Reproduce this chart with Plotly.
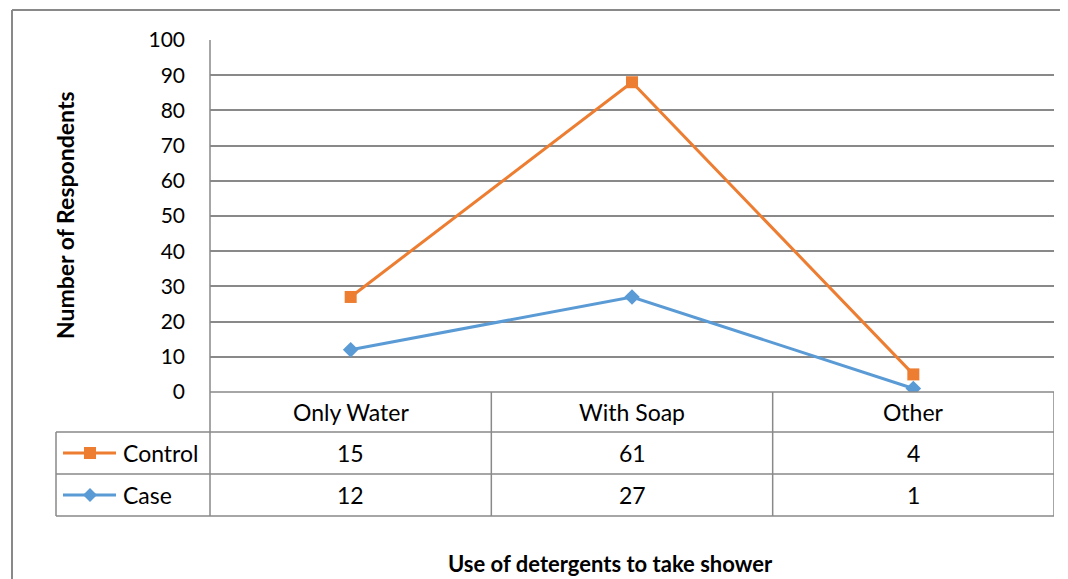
import plotly.graph_objects as go

# Data
categories = ['Only Water', 'With Soap', 'Other']
case_vals = [12, 27, 1]
control_vals = [15, 61, 4]
y_ticks = list(range(0, 101, 10))

ORANGE = '#ED7D31'
BLUE = '#5B9BD5'
GRID = '#898989'
FONT = 'Lato, Calibri, Carlito, sans-serif'

# page body has an 8px margin, so work in screenshot pixels and shift
OFF = 8
W, H = 1068 - OFF, 579 - OFF
PLOT_L, PLOT_R, PLOT_T, PLOT_B = 210, 1054, 40, 392
L, T = PLOT_L - OFF, PLOT_T - OFF
R = W - (PLOT_R - OFF)
B = H - (PLOT_B - OFF)
pw, ph = PLOT_R - PLOT_L, PLOT_B - PLOT_T


def px(x):
    return (x - PLOT_L) / pw


def py(y):
    return (PLOT_B - y) / ph


fig = go.Figure()

# stacked lines (Excel "stacked line" chart): Case at bottom, Control on top
fig.add_trace(go.Scatter(
    x=categories, y=case_vals, name='Case', stackgroup='one', fill='none',
    mode='lines+markers', line=dict(color=BLUE, width=3),
    marker=dict(symbol='diamond', size=12, color=BLUE)))
fig.add_trace(go.Scatter(
    x=categories, y=control_vals, name='Control', stackgroup='one', fill='none',
    mode='lines+markers', line=dict(color=ORANGE, width=3),
    marker=dict(symbol='square', size=12, color=ORANGE)))

shapes = []
annotations = []

# outer chart border (runs off the right and bottom edge)
shapes.append(dict(type='line', xref='paper', yref='paper', x0=px(12), x1=px(1090),
                   y0=py(10), y1=py(10), line=dict(color=GRID, width=2)))
shapes.append(dict(type='line', xref='paper', yref='paper', x0=px(12), x1=px(12),
                   y0=py(10), y1=py(600), line=dict(color=GRID, width=2)))

# data table grid
row_lines = [392, 432, 474, 516]
for i, yy in enumerate(row_lines):
    x0 = px(210) if i == 0 else px(56)
    shapes.append(dict(type='line', xref='paper', yref='paper', x0=x0, x1=1,
                       y0=py(yy), y1=py(yy), line=dict(color=GRID, width=1.5)))
shapes.append(dict(type='line', xref='paper', yref='paper', x0=0, x1=0,
                   y0=1, y1=py(516), line=dict(color=GRID, width=1.5)))
shapes.append(dict(type='line', xref='paper', yref='paper', x0=px(56), x1=px(56),
                   y0=py(432), y1=py(516), line=dict(color=GRID, width=1.5)))
for xv in [0.5, 1.5, 2.5]:
    shapes.append(dict(type='line', xref='x', yref='paper', x0=xv, x1=xv,
                       y0=0, y1=py(516), line=dict(color=GRID, width=1.5)))


def label(x, y, text, xref='paper', xanchor='center', size=23, angle=0):
    annotations.append(dict(x=x, y=y, xref=xref, yref='paper', text=text,
                            xanchor=xanchor, yanchor='middle', textangle=angle,
                            showarrow=False, font=dict(size=size)))


# category labels and values
for i, cat in enumerate(categories):
    label(i, py(412), cat, xref='x')
    label(i, py(453), str(control_vals[i]), xref='x')
    label(i, py(495), str(case_vals[i]), xref='x')

# legend keys inside table
for name, color, yy, sym in [('Control', ORANGE, 453, 'square'), ('Case', BLUE, 495, 'diamond')]:
    shapes.append(dict(type='line', xref='paper', yref='paper', x0=px(63), x1=px(116),
                       y0=py(yy), y1=py(yy), line=dict(color=color, width=3)))
    cx = 90
    if sym == 'square':
        shapes.append(dict(type='rect', xref='paper', yref='paper',
                           x0=px(cx - 6), x1=px(cx + 6), y0=py(yy - 6), y1=py(yy + 6),
                           fillcolor=color, line=dict(width=0)))
    else:
        d = 7
        path = 'M {} {} L {} {} L {} {} L {} {} Z'.format(
            px(cx - d), py(yy), px(cx), py(yy - d), px(cx + d), py(yy), px(cx), py(yy + d))
        shapes.append(dict(type='path', xref='paper', yref='paper', path=path,
                           fillcolor=color, line=dict(width=0)))
    label(px(121), py(yy), name, xanchor='left')

# axis titles
label(px(65), py(215), '<b>Number of Respondents</b>', size=23, angle=-90)
label(px(610), py(563), '<b>Use of detergents to take shower</b>', size=22)

fig.update_layout(
    width=W, height=H,
    margin=dict(l=L, r=R, t=T, b=B),
    paper_bgcolor='white', plot_bgcolor='white',
    font=dict(family=FONT, color='black', size=21),
    showlegend=False,
    shapes=shapes,
    annotations=annotations,
    xaxis=dict(type='category', range=[-0.5, 2.5], showticklabels=False,
               showgrid=False, zeroline=False, showline=False, fixedrange=True),
    yaxis=dict(range=[0, 100], tickvals=y_ticks, showgrid=True, gridcolor=GRID,
               gridwidth=1.5, zeroline=False, showline=False,
               ticks='', ticklabelstandoff=24, tickfont=dict(size=21)),
)

fig.write_html('out.html')
